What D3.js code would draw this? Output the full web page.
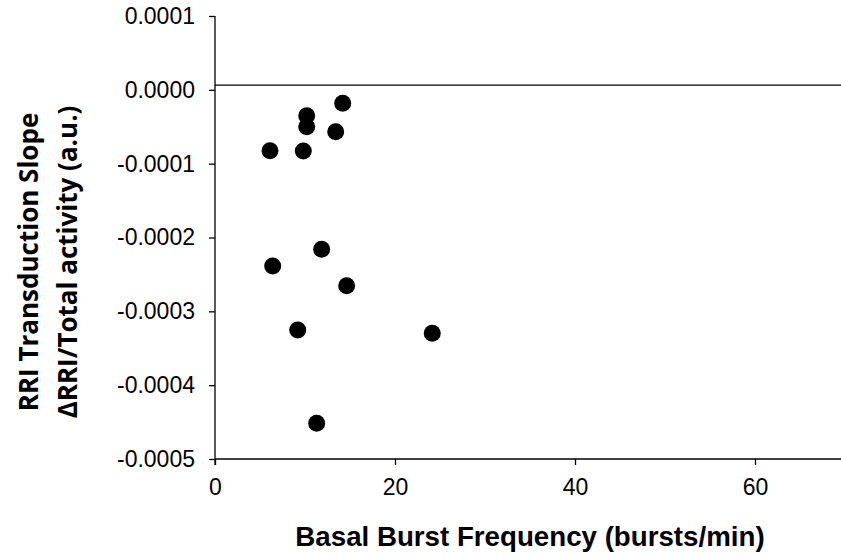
<!DOCTYPE html>
<html>
<head>
<meta charset="utf-8">
<script src="https://cdn.jsdelivr.net/npm/d3@7"></script>
<style>
  html, body { margin: 0; padding: 0; background: #fff; }
  svg { display: block; }
</style>
</head>
<body>
<svg id="chart" width="841" height="559"></svg>
<script>
// ---- data ----
const burstFreq = [14.19, 10.19, 10.19, 13.41, 6.11, 9.81, 11.85, 6.41, 14.63, 9.19, 24.14, 11.3];
const transductionSlope = [-0.0000183, -0.000035, -0.0000499, -0.0000567, -0.0000824, -0.0000829,
                           -0.000216, -0.0002386, -0.0002653, -0.0003253, -0.0003298, -0.0004517];
const xTicks = [0, 20, 40, 60];
const yTicks = [0.0001, 0.0000, -0.0001, -0.0002, -0.0003, -0.0004, -0.0005];
const xDomain = [0, 70];
const yDomain = [-0.0005, 0.0001];
const referenceLineValue = 0.0000065;
const xTitle = "Basal Burst Frequency (bursts/min)";
const yTitleLines = ["RRI Transduction Slope", "ΔRRI/Total activity (a.u.)"];

// ---- drawing ----
const svg = d3.select("#chart");
const x = d3.scaleLinear().domain(xDomain).range([215, 845]);
const y = d3.scaleLinear().domain(yDomain).range([459, 16]);

// reference line near zero
svg.append("line")
  .attr("x1", x(0)).attr("x2", x(xDomain[1]))
  .attr("y1", y(referenceLineValue)).attr("y2", y(referenceLineValue))
  .attr("stroke", "#000").attr("stroke-width", 1.3);

// y axis
const yAxis = d3.axisLeft(y).tickValues(yTicks).tickSize(6).tickPadding(14)
  .tickFormat(d => d3.format(".4f")(d).replace("−", "-"));
const gy = svg.append("g").attr("transform", `translate(${x(0)},0)`).call(yAxis);
gy.select(".domain").attr("d", `M0,${y(yDomain[1])}V${y(yDomain[0]) + 6}`)
  .attr("stroke", "#000").attr("stroke-width", 1.3);
gy.selectAll(".tick line").attr("stroke", "#000").attr("stroke-width", 1.3);
gy.selectAll(".tick text")
  .attr("font-family", "'Liberation Sans', Arial, sans-serif")
  .attr("font-size", 23).attr("fill", "#000");

// x axis
const xAxis = d3.axisBottom(x).tickValues(xTicks).tickSize(6).tickPadding(14)
  .tickFormat(d3.format("d"));
const gx = svg.append("g").attr("transform", `translate(0,${y(yDomain[0])})`).call(xAxis);
gx.select(".domain").attr("d", `M${x(0)},0H${x(xDomain[1])}`)
  .attr("stroke", "#000").attr("stroke-width", 1.3);
gx.selectAll(".tick line").attr("stroke", "#000").attr("stroke-width", 1.3);
gx.selectAll(".tick text")
  .attr("font-family", "'Liberation Sans', Arial, sans-serif")
  .attr("font-size", 23).attr("fill", "#000");

// points
svg.append("g").selectAll("circle")
  .data(burstFreq.map((v, i) => [v, transductionSlope[i]]))
  .join("circle")
  .attr("cx", d => x(d[0]))
  .attr("cy", d => y(d[1]))
  .attr("r", 8.5)
  .attr("fill", "#000");

// x title
svg.append("text")
  .attr("x", (x(xDomain[0]) + x(xDomain[1])) / 2)
  .attr("y", 546)
  .attr("text-anchor", "middle")
  .attr("font-family", "'Liberation Sans', Arial, sans-serif")
  .attr("font-weight", "bold")
  .attr("font-size", 27.7)
  .attr("fill", "#000")
  .text(xTitle);

// y title (two lines, rotated)
const yt = svg.append("text")
  .attr("transform", "translate(0,262) rotate(-90)")
  .attr("text-anchor", "middle")
  .attr("font-family", "'Open Sans', Lato, sans-serif")
  .attr("font-weight", "bold")
  .attr("font-size", 26)
  .attr("fill", "#000");
yt.selectAll("tspan").data(yTitleLines).join("tspan")
  .attr("x", 0)
  .attr("y", (d, i) => i === 0 ? 38 : 77)
  .text(d => d);
</script>
</body>
</html>
